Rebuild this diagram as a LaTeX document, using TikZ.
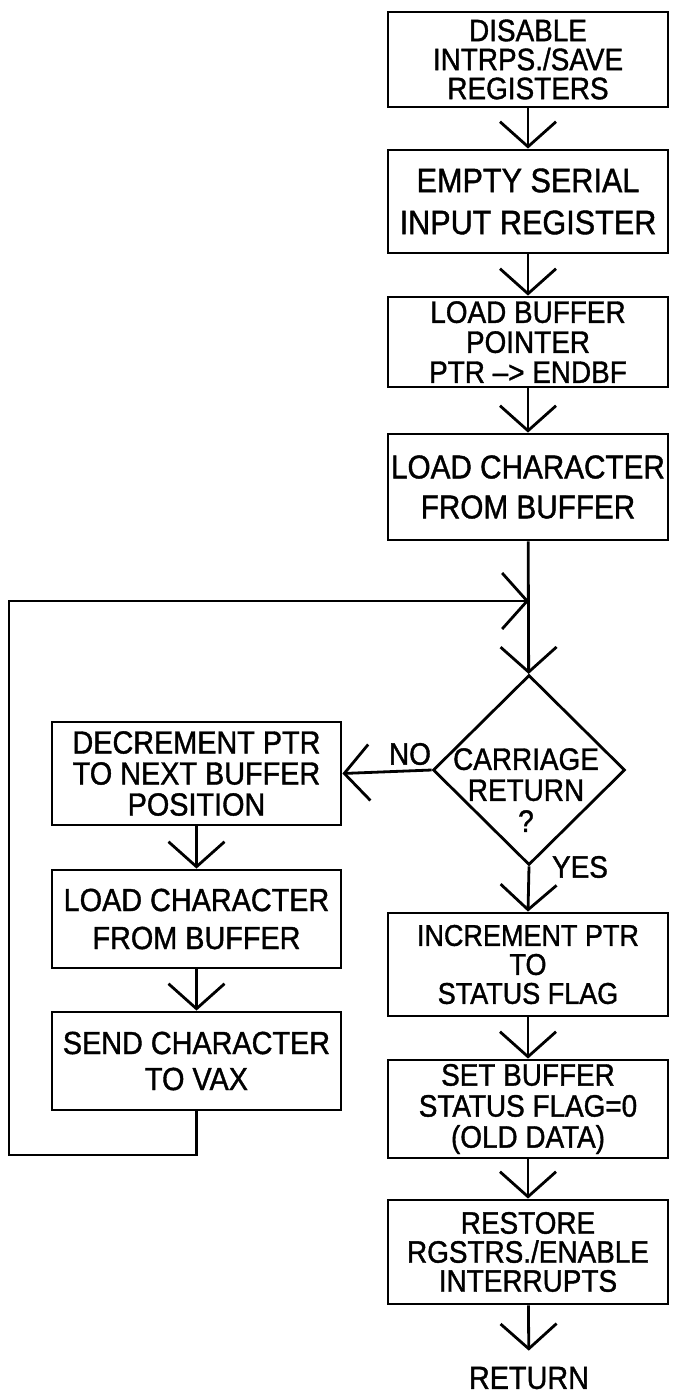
\documentclass[tikz,border=0pt]{standalone}
\usepackage{fontspec}
\setmainfont[FakeStretch=0.9,FakeBold=1.2]{Liberation Sans}
\usetikzlibrary{arrows.meta,shapes.geometric}
\newcommand\lfs[2]{\fontsize{#1}{#2}\selectfont}
\begin{document}
\begin{tikzpicture}[x=1pt,y=-1pt,
  box/.style={draw,line width=2.8pt,inner sep=0pt,align=center,minimum width=280pt},
  lbox/.style={box,minimum width=289pt},
  flow/.style={line width=2.8pt,-{Straight Barb[length=25pt,width=56pt]}},
  lbl/.style={inner sep=0pt,align=center}]
\fill[white] (0,0) rectangle (673,1393);
\useasboundingbox (0,0) rectangle (673,1393);
% right column
\node[box,minimum height=95pt,font=\lfs{31}{29}] (A) at (528,59.5) {DISABLE\\INTRPS./SAVE\\REGISTERS};
\node[box,minimum height=103pt,font=\lfs{34}{42}] (B) at (528,201.5) {EMPTY SERIAL\\INPUT REGISTER};
\node[box,minimum height=90pt,font=\lfs{31}{30}] (C) at (528,342) {LOAD BUFFER\\POINTER\\PTR --> ENDBF};
\node[box,minimum height=106pt,font=\lfs{33}{40}] (D) at (528,487) {LOAD CHARACTER\\FROM BUFFER};
\node[draw,diamond,line width=2.8pt,minimum width=192pt,minimum height=190pt,inner sep=0pt] (E) at (529,770) {};
\node[lbl,font=\lfs{31}{31}] (Et) at (526,790) {CARRIAGE\\RETURN\\?};
\node[box,minimum height=103pt,font=\lfs{30}{29}] (F) at (528,964.5) {INCREMENT PTR\\TO\\STATUS FLAG};
\node[box,minimum height=98pt,font=\lfs{31}{31}] (G) at (528,1109) {SET BUFFER\\STATUS FLAG=0\\(OLD DATA)};
\node[box,minimum height=104pt,font=\lfs{31}{29}] (H) at (528,1252) {RESTORE\\RGSTRS./ENABLE\\INTERRUPTS};
\node[lbl,font=\lfs{32}{32}] (R) at (529,1378) {RETURN};
% left column
\node[lbox,minimum height=103pt,font=\lfs{32}{31}] (L1) at (196.5,773.5) {DECREMENT PTR\\TO NEXT BUFFER\\POSITION};
\node[lbox,minimum height=98pt,font=\lfs{32}{38}] (L2) at (196.5,919) {LOAD CHARACTER\\FROM BUFFER};
\node[lbox,minimum height=98pt,font=\lfs{32}{36}] (L3) at (196.5,1061) {SEND CHARACTER\\TO VAX};
% labels
\node[lbl,font=\lfs{31}{31}] (no) at (410,754) {NO};
\node[lbl,font=\lfs{31}{31}] (yes) at (580,867) {YES};
% loop coordinates
\coordinate (J) at (529,601);
\coordinate (ll) at (9,1155);
% connectors
\draw[flow] (A) -- (B);
\draw[flow] (B) -- (C);
\draw[flow] (C) -- (D);
\draw[flow] (D) -- (E);
\draw[flow] (E.west) -- (L1.east);
\draw[flow] (E.south) -- (F.north);
\draw[flow] (F) -- (G);
\draw[flow] (G) -- (H);
\draw[flow,shorten >=16pt] (H) -- (R);
\draw[flow] (L1) -- (L2);
\draw[flow] (L2) -- (L3);
\draw[flow] (L3.south) |- (ll) |- (J);
\end{tikzpicture}
\end{document}
